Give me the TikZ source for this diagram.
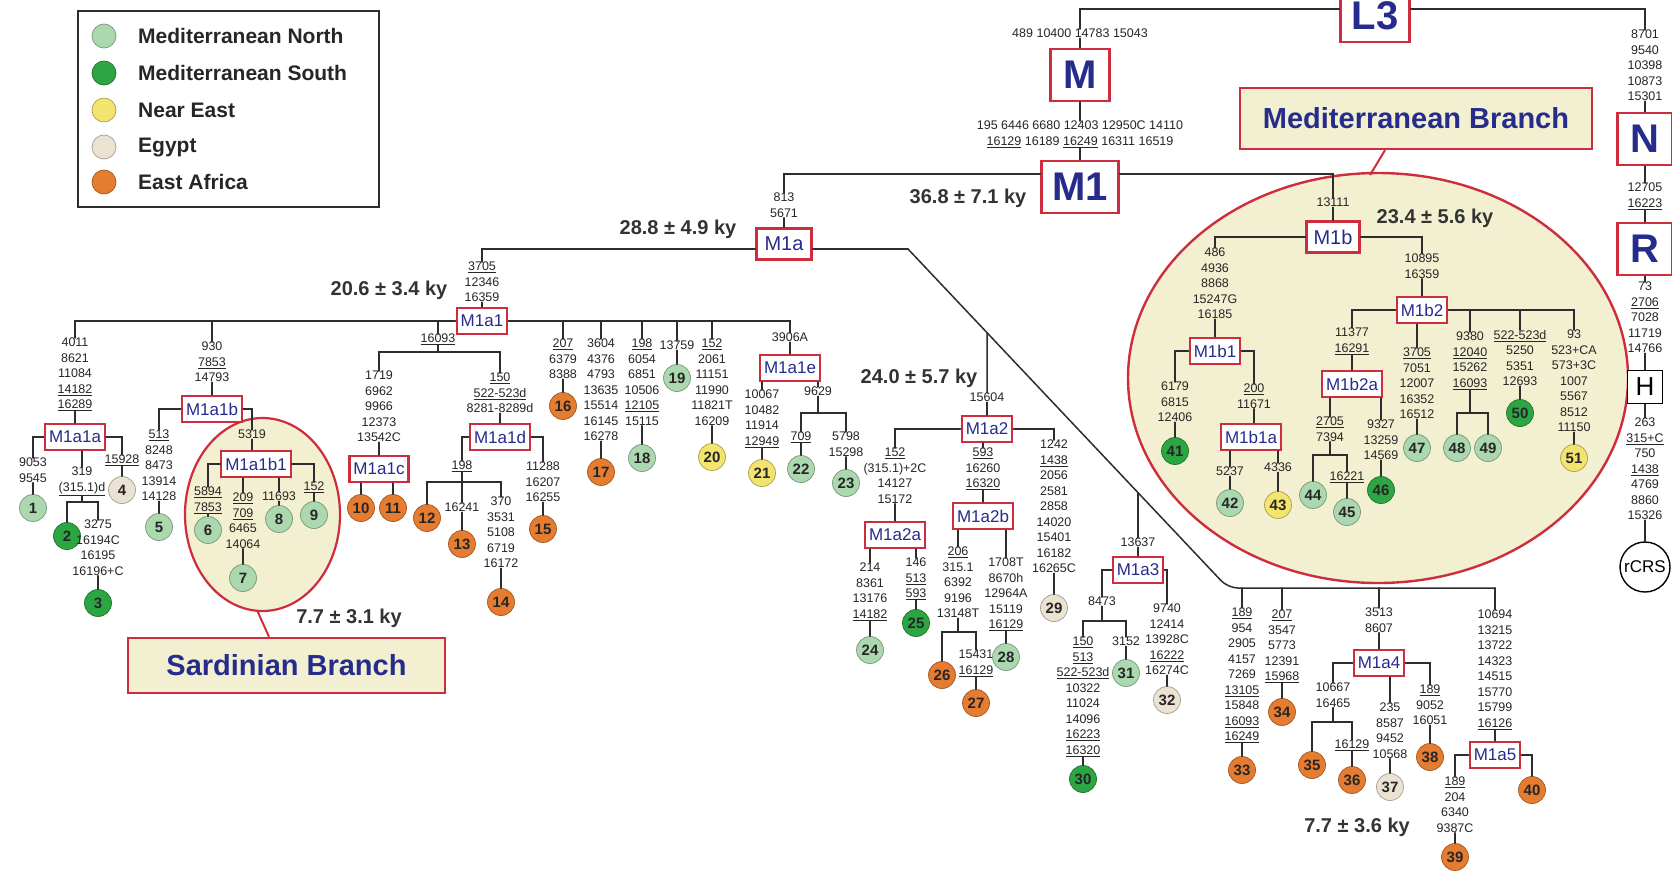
\documentclass[tikz,border=0pt]{standalone}
\usepackage{fontspec}
\setmainfont{Liberation Sans}
\usetikzlibrary{calc}
\definecolor{hred}{RGB}{205,45,60}
\definecolor{hblue}{RGB}{38,44,140}
\definecolor{cream}{RGB}{242,240,208}
\definecolor{mn}{RGB}{172,216,176}
\definecolor{ms}{RGB}{44,166,66}
\definecolor{ne}{RGB}{242,228,110}
\definecolor{eg}{RGB}{236,226,210}
\definecolor{ea}{RGB}{230,124,48}
\definecolor{ln}{RGB}{45,45,45}
\newcommand{\un}[1]{\underline{#1}}
\begin{document}
\begin{tikzpicture}[x=1pt,y=-1pt,
  br/.style={draw=ln, line width=1.5pt, line cap=round},
  mut/.style={font=\fontsize{12.5}{15.5}\selectfont, align=center, inner sep=0pt, anchor=north, text=black!85},
  hg/.style={draw=hred, line width=2.4pt, fill=white, text=hblue, font=\fontsize{17}{17}\selectfont, inner xsep=4pt, inner ysep=0pt, minimum height=26pt},
  hgm/.style={hg, font=\fontsize{20}{20}\selectfont, minimum height=31pt},
  big/.style={hg, font=\bfseries\fontsize{40}{40}\selectfont, minimum height=52pt, inner xsep=10pt},
  leaf/.style={circle, minimum size=27pt, inner sep=0pt, font=\bfseries\fontsize{15}{15}\selectfont, fill=#1, draw=#1!70!black, line width=0.7pt, text=black!85},
  ky/.style={font=\bfseries\fontsize{20}{20}\selectfont, text=black!80, inner sep=0pt},
  co/.style={draw=hred, line width=2pt},
  callout/.style={draw=hred, line width=2.4pt, fill=cream, text=hblue, font=\bfseries\fontsize{29}{29}\selectfont, inner sep=0pt},
  leg/.style={font=\bfseries\fontsize{21}{21}\selectfont, text=black!85, anchor=west, inner sep=0pt}
]
\useasboundingbox (0,0) rectangle (1672,871);
\fill[white] (0,0) rectangle (1672,871);

% background ellipses
\draw[draw=hred, line width=2.4pt, fill=cream] (1378,378) ellipse [x radius=250pt, y radius=205pt];
\draw[draw=hred, line width=2.2pt, fill=cream] (262.5,514.5) ellipse [x radius=77.5pt, y radius=96.5pt];

% legend
\node[draw=ln, line width=2pt, anchor=north west, minimum width=301pt, minimum height=196pt, inner sep=0pt] (legbox) at (77,10) {};
\node[leaf=mn, minimum size=24pt] (lg1) at (104,36) {};
\node[leaf=ms, minimum size=24pt] (lg2) at (104,73) {};
\node[leaf=ne, minimum size=24pt] (lg3) at (104,110) {};
\node[leaf=eg, minimum size=24pt] (lg4) at (104,147) {};
\node[leaf=ea, minimum size=24pt] (lg5) at (104,182) {};
\node[leg] (lt1) at (138,36) {Mediterranean North};
\node[leg] (lt2) at (138,73) {Mediterranean South};
\node[leg] (lt3) at (138,110) {Near East};
\node[leg] (lt4) at (138,147) {Egypt};
\node[leg] (lt5) at (138,182) {East Africa};

% top
\node[big, minimum width=69pt] (L3) at (1375,16) {L3};
\node[mut] (tM) at (1080,29) {489 10400 14783 15043};
\node[big, minimum width=59pt] (M) at (1080,75) {M};
\node[mut] (tM1) at (1080,121) {195 6446 6680 12403 12950C 14110\\\un{16129} 16189 \un{16249} 16311 16519};
\node[big, minimum width=77pt] (M1) at (1080,187) {M1};
\node[ky] (k368) at (968,198) {36.8 ± 7.1 ky};

\node[mut] (t813) at (784,193) {813\\5671};
\node[hgm, minimum width=55pt] (M1a) at (784,244) {M1a};
\node[ky] (k288) at (678,229) {28.8 ± 4.9 ky};
\node[mut] (t3705) at (482,262) {\un{3705}\\12346\\16359};
\node[hg] (M1a1) at (482,321) {M1a1};
\node[ky] (k206) at (389,290) {20.6 ± 3.4 ky};

% M1a1a
\node[mut] (t4011) at (75,338) {4011\\8621\\11084\\\un{14182}\\\un{16289}};
\node[hg] (M1a1a) at (75,437) {M1a1a};
\node[mut] (t9053) at (33,458) {9053\\9545};
\node[leaf=mn] (c1) at (33,508) {1};
\node[mut] (t319) at (82,467) {319\\\un{(315.1)d}};
\coordinate (b3) at (82,502);
\node[leaf=ms] (c2) at (67,536) {2};
\node[mut] (t3275) at (98,520) {3275\\16194C\\16195\\16196+C};
\node[leaf=ms] (c3) at (98,603) {3};
\node[mut] (t15928) at (122,455) {\un{15928}};
\node[leaf=eg] (c4) at (122,490) {4};

% M1a1b
\node[mut] (t930) at (212,342) {930\\\un{7853}\\14793};
\node[hg] (M1a1b) at (212,409) {M1a1b};
\node[mut] (t513) at (159,430) {\un{513}\\8248\\8473\\13914\\14128};
\node[leaf=mn] (c5) at (159,527) {5};
\node[mut] (t5319) at (252,430) {5319};
\node[hg] (M1a1b1) at (256,464) {M1a1b1};
\node[mut] (t5894) at (208,487) {\un{5894}\\\un{7853}};
\node[leaf=mn] (c6) at (208,530) {6};
\node[mut] (t209) at (243,493) {\un{209}\\\un{709}\\6465\\14064};
\node[leaf=mn] (c7) at (243,578) {7};
\node[mut] (t11693) at (279,492) {11693};
\node[leaf=mn] (c8) at (279,519) {8};
\node[mut] (t152s) at (314,482) {\un{152}};
\node[leaf=mn] (c9) at (314,515) {9};
\node[callout, minimum width=317pt, minimum height=55pt] (sard) at (286.5,665.5) {Sardinian Branch};
\coordinate (sardtip) at (257,610);
\node[ky] (k77a) at (349,618) {7.7 ± 3.1 ky};

% M1a1c / M1a1d
\node[mut] (t16093) at (438,334) {\un{16093}};
\coordinate (b1) at (438,352);
\node[mut] (t1719) at (379,371) {1719\\6962\\9966\\12373\\13542C};
\node[hg] (M1a1c) at (379,469) {M1a1c};
\node[leaf=ea] (c10) at (361,508) {10};
\node[leaf=ea] (c11) at (393,508) {11};
\node[mut] (t150) at (500,373) {\un{150}\\\un{522-523d}\\8281-8289d};
\node[hg] (M1a1d) at (500,437) {M1a1d};
\node[mut] (t198) at (462,461) {\un{198}};
\coordinate (b2) at (462,482);
\node[leaf=ea] (c12) at (427,518) {12};
\node[mut] (t16241) at (462,503) {16241};
\node[leaf=ea] (c13) at (462,544) {13};
\node[mut] (t370) at (501,497) {370\\3531\\5108\\6719\\16172};
\node[leaf=ea] (c14) at (501,602) {14};
\node[mut] (t11288) at (543,462) {11288\\16207\\16255};
\node[leaf=ea] (c15) at (543,529) {15};

% other M1a1 branches
\node[mut] (t207) at (563,339) {\un{207}\\6379\\8388};
\node[leaf=ea] (c16) at (563,406) {16};
\node[mut] (t3604) at (601,339) {3604\\4376\\4793\\13635\\15514\\16145\\16278};
\node[leaf=ea] (c17) at (601,472) {17};
\node[mut] (t198b) at (642,339) {\un{198}\\6054\\6851\\10506\\\un{12105}\\15115};
\node[leaf=mn] (c18) at (642,458) {18};
\node[mut] (t13759) at (677,341) {13759};
\node[leaf=mn] (c19) at (677,378) {19};
\node[mut] (t152a) at (712,339) {\un{152}\\2061\\11151\\11990\\11821T\\16209};
\node[leaf=ne] (c20) at (712,457) {20};
\node[mut] (t3906) at (790,333) {3906A};
\node[hg] (M1a1e) at (790,368) {M1a1e};
\node[mut] (t10067) at (762,390) {10067\\10482\\11914\\\un{12949}};
\node[leaf=ne] (c21) at (762,473) {21};
\node[mut] (t9629) at (818,387) {9629};
\coordinate (b9) at (818,413);
\node[mut] (t709) at (801,432) {\un{709}};
\node[leaf=mn] (c22) at (801,469) {22};
\node[mut] (t5798) at (846,432) {5798\\15298};
\node[leaf=mn] (c23) at (846,483) {23};

% diagonal
\coordinate (dA) at (908,249);
\coordinate (dB) at (1228,588);
\coordinate (bE) at (1495,588);
\coordinate (j2) at ($(dA)!0.2469!(dB)$);
\coordinate (j3) at ($(dA)!0.71875!(dB)$);

% M1a2
\node[mut] (t15604) at (987,393) {15604};
\node[ky] (k240) at (919,378) {24.0 ± 5.7 ky};
\node[hg] (M1a2) at (987,429) {M1a2};
\node[mut] (t152b) at (895,448) {\un{152}\\(315.1)+2C\\14127\\15172};
\node[hg] (M1a2a) at (895,535) {M1a2a};
\node[mut] (t214) at (870,563) {214\\8361\\13176\\\un{14182}};
\node[leaf=mn] (c24) at (870,650) {24};
\node[mut] (t146) at (916,558) {146\\\un{513}\\\un{593}};
\node[leaf=ms] (c25) at (916,623) {25};
\node[mut] (t593) at (983,448) {\un{593}\\16260\\\un{16320}};
\node[hg] (M1a2b) at (983,516) {M1a2b};
\node[mut] (t206) at (958,547) {\un{206}\\315.1\\6392\\9196\\13148T};
\coordinate (b4) at (958,632);
\node[leaf=ea] (c26) at (942,675) {26};
\node[mut] (t15431) at (976,650) {15431\\\un{16129}};
\node[leaf=ea] (c27) at (976,703) {27};
\node[mut] (t1708) at (1006,558) {1708T\\8670h\\12964A\\15119\\\un{16129}};
\node[leaf=mn] (c28) at (1006,657) {28};
\node[mut] (t1242) at (1054,440) {1242\\\un{1438}\\2056\\2581\\2858\\14020\\15401\\16182\\16265C};
\node[leaf=eg] (c29) at (1054,608) {29};

% M1a3
\node[mut] (t13637) at (1138,538) {13637};
\node[hg] (M1a3) at (1138,570) {M1a3};
\node[mut] (t8473) at (1102,597) {8473};
\coordinate (b5) at (1102,621);
\node[mut] (t150b) at (1083,637) {\un{150}\\\un{513}\\\un{522-523d}\\10322\\11024\\14096\\\un{16223}\\\un{16320}};
\node[leaf=ms] (c30) at (1083,779) {30};
\node[mut] (t3152) at (1126,637) {3152};
\node[leaf=mn] (c31) at (1126,673) {31};
\node[mut] (t9740) at (1167,604) {9740\\12414\\13928C\\\un{16222}\\16274C};
\node[leaf=eg] (c32) at (1167,700) {32};

% M1a4 / M1a5
\node[mut] (t189) at (1242,608) {\un{189}\\954\\2905\\4157\\7269\\\un{13105}\\15848\\\un{16093}\\\un{16249}};
\node[leaf=ea] (c33) at (1242,770) {33};
\node[mut] (t207b) at (1282,610) {\un{207}\\3547\\5773\\12391\\\un{15968}};
\node[leaf=ea] (c34) at (1282,712) {34};
\node[mut] (t3513) at (1379,608) {3513\\8607};
\node[hg] (M1a4) at (1379,663) {M1a4};
\node[mut] (t10667) at (1333,683) {10667\\16465};
\coordinate (b6) at (1333,722);
\node[leaf=ea] (c35) at (1312,765) {35};
\node[mut] (t16129c) at (1352,740) {\un{16129}};
\node[leaf=ea] (c36) at (1352,780) {36};
\node[mut] (t235) at (1390,703) {235\\8587\\9452\\10568};
\node[leaf=eg] (c37) at (1390,787) {37};
\node[mut] (t189c) at (1430,685) {\un{189}\\9052\\16051};
\node[leaf=ea] (c38) at (1430,757) {38};
\node[mut] (t10694) at (1495,610) {10694\\13215\\13722\\14323\\14515\\15770\\15799\\\un{16126}};
\node[hg] (M1a5) at (1495,755) {M1a5};
\node[mut] (t189d) at (1455,777) {\un{189}\\204\\6340\\9387C};
\node[leaf=ea] (c39) at (1455,857) {39};
\node[leaf=ea] (c40) at (1532,790) {40};
\node[ky] (k77b) at (1357,827) {7.7 ± 3.6 ky};

% M1b
\node[mut] (t13111) at (1333,198) {13111};
\node[hgm, minimum width=53pt] (M1b) at (1333,237) {M1b};
\node[ky] (k234) at (1435,218) {23.4 ± 5.6 ky};
\node[mut] (t486) at (1215,248) {486\\4936\\8868\\15247G\\16185};
\node[hg] (M1b1) at (1215,351) {M1b1};
\node[mut] (t6179) at (1175,382) {6179\\6815\\12406};
\node[leaf=ms] (c41) at (1175,451) {41};
\node[mut] (t200) at (1254,384) {\un{200}\\11671};
\node[hg] (M1b1a) at (1251,437) {M1b1a};
\node[mut] (t5237) at (1230,467) {5237};
\node[leaf=mn] (c42) at (1230,503) {42};
\node[mut] (t4336) at (1278,463) {4336};
\node[leaf=ne] (c43) at (1278,505) {43};
\node[mut] (t10895) at (1422,254) {10895\\16359};
\node[hg] (M1b2) at (1422,310) {M1b2};
\node[mut] (t11377) at (1352,328) {11377\\\un{16291}};
\node[hg] (M1b2a) at (1352,384) {M1b2a};
\node[mut] (t2705) at (1330,417) {\un{2705}\\7394};
\coordinate (b8) at (1330,455);
\node[leaf=mn] (c44) at (1313,495) {44};
\node[mut] (t16221) at (1347,472) {\un{16221}};
\node[leaf=mn] (c45) at (1347,512) {45};
\node[mut] (t9327) at (1381,420) {9327\\13259\\14569};
\node[leaf=ms] (c46) at (1381,490) {46};
\node[mut] (t3705b) at (1417,348) {\un{3705}\\7051\\12007\\16352\\16512};
\node[leaf=mn] (c47) at (1417,448) {47};
\node[mut] (t9380) at (1470,332) {9380\\\un{12040}\\15262\\\un{16093}};
\coordinate (b7) at (1470,413);
\node[leaf=mn] (c48) at (1457,448) {48};
\node[leaf=mn] (c49) at (1488,448) {49};
\node[mut] (t522) at (1520,330) {\un{522-523d}\\5250\\5351\\12693};
\node[leaf=ms] (c50) at (1520,413) {50};
\node[mut] (t93) at (1574,330) {93\\523+CA\\573+3C\\1007\\5567\\8512\\11150};
\node[leaf=ne] (c51) at (1574,458) {51};

\node[callout, minimum width=352pt, minimum height=61pt] (med) at (1416,118.5) {Mediterranean Branch};
\coordinate (medtip) at (1370,175);

% right column
\node[mut] (tN) at (1645,30) {8701\\9540\\10398\\10873\\15301};
\node[big, minimum width=55pt] (N) at (1645,139) {N};
\node[mut] (tR) at (1645,183) {12705\\\un{16223}};
\node[big, minimum width=55pt] (R) at (1645,249) {R};
\node[mut] (tH) at (1645,282) {73\\\un{2706}\\7028\\11719\\14766};
\node[hg, draw=black, text=black, line width=1.6pt, font=\fontsize{26}{26}\selectfont, minimum width=35pt, minimum height=33pt, inner sep=0pt] (H) at (1645,387) {H};
\node[mut] (trc) at (1645,418) {263\\\un{315+C}\\750\\\un{1438}\\4769\\8860\\15326};
\node[circle, draw=black, line width=1.4pt, fill=white, minimum size=50pt, inner sep=0pt, font=\fontsize{17}{17}\selectfont] (rcrs) at (1645,567) {rCRS};

% ---------- connectors ----------
\draw[co] ([xshift=-31pt]med.south) -- (medtip);
\draw[co] ([xshift=-17.5pt]sard.north) -- (sardtip);

\draw[br] (L3.west |- 0,9) -| (tM.north);
\draw[br] (L3.east |- 0,9) -| (tN.north);
\draw[br] (tM.south) -- (M.north);
\draw[br] (M.south) -- (tM1.north);
\draw[br] (tM1.south) -- (M1.north);
\draw[br] (M1.west |- 0,174) -| (t813.north);
\draw[br] (t813.south) -- (M1a.north);
\draw[br] (M1.east |- 0,174) -| (t13111.north);
\draw[br] (t13111.south) -- (M1b.north);

\draw[br] (M1a.west |- 0,249) -| (t3705.north);
\draw[br] (t3705.south) -- (M1a1.north);
\draw[br] (M1a.east |- 0,249) -- (dA);
\draw[br, rounded corners=10pt] (dA) -- (dB) -- (bE);
\draw[br] (bE) -- (t10694.north);
\draw[br] (j2) -- (t15604.north);
\draw[br] (j3) -- (t13637.north);
\draw[br] (t189.north) -- (t189.north |- bE);
\draw[br] (t207b.north) -- (t207b.north |- bE);
\draw[br] (t3513.north) -- (t3513.north |- bE);

% M1a1 bar
\draw[br] (t4011.north) |- (M1a1.west);
\draw[br] (t930.north) -- (t930.north |- M1a1.west);
\draw[br] (t16093.north) -- (t16093.north |- M1a1.west);
\draw[br] (M1a1.east) -| (t3906.north);
\foreach \n in {t207,t3604,t198b,t13759,t152a} \draw[br] (\n.north) -- (\n.north |- M1a1.east);

% M1a1a
\draw[br] (t4011.south) -- (M1a1a.north);
\draw[br] (M1a1a.west) -| (t9053.north);
\draw[br] (t9053.south) -- (c1);
\draw[br] (t319.north) -- (t319.north |- M1a1a.south);
\draw[br] (t319.south) -- (b3);
\draw[br] (c2.north) |- (b3) -| (t3275.north);
\draw[br] (t3275.south) -- (c3);
\draw[br] (M1a1a.east) -| (t15928.north);
\draw[br] (t15928.south) -- (c4);

% M1a1b
\draw[br] (t930.south) -- (M1a1b.north);
\draw[br] (M1a1b.west) -| (t513.north);
\draw[br] (t513.south) -- (c5);
\draw[br] (M1a1b.east) -| (t5319.north);
\draw[br] (t5319.south) -- (t5319.south |- M1a1b1.north);
\draw[br] (t5894.north) |- (M1a1b1.west);
\draw[br] (M1a1b1.east) -| (t152s.north);
\draw[br] (t209.north) -- (t209.north |- M1a1b1.south);
\draw[br] (t11693.north) -- (t11693.north |- M1a1b1.south);
\draw[br] (t5894.south) -- (c6);
\draw[br] (t209.south) -- (c7);
\draw[br] (t11693.south) -- (c8);
\draw[br] (t152s.south) -- (c9);

% M1a1c / d
\draw[br] (t16093.south) -- (b1);
\draw[br] (t1719.north) |- (b1) -| (t150.north);
\draw[br] (t1719.south) -- (M1a1c.north);
\draw[br] (c10.north |- M1a1c.south) -- (c10.north);
\draw[br] (c11.north |- M1a1c.south) -- (c11.north);
\draw[br] (t150.south) -- (M1a1d.north);
\draw[br] (M1a1d.west) -| (t198.north);
\draw[br] (t198.south) -- (b2);
\draw[br] (c12.north) |- (b2) -| (t370.north);
\draw[br] (b2) -- (t16241.north);
\draw[br] (t16241.south) -- (c13);
\draw[br] (t370.south) -- (c14);
\draw[br] (M1a1d.east) -| (t11288.north);
\draw[br] (t11288.south) -- (c15);

% other M1a1
\draw[br] (t207.south) -- (c16);
\draw[br] (t3604.south) -- (c17);
\draw[br] (t198b.south) -- (c18);
\draw[br] (t13759.south) -- (c19);
\draw[br] (t152a.south) -- (c20);
\draw[br] (t3906.south) -- (M1a1e.north);
\draw[br] (t10067.north) -- (t10067.north |- M1a1e.south);
\draw[br] (t10067.south) -- (c21);
\draw[br] (t9629.north) -- (t9629.north |- M1a1e.south);
\draw[br] (t9629.south) -- (b9);
\draw[br] (t709.north) |- (b9) -| (t5798.north);
\draw[br] (t709.south) -- (c22);
\draw[br] (t5798.south) -- (c23);

% M1a2
\draw[br] (t15604.south) -- (M1a2.north);
\draw[br] (t152b.north) |- (M1a2.west);
\draw[br] (M1a2.east) -| (t1242.north);
\draw[br] (t593.north) -- (t593.north |- M1a2.south);
\draw[br] (t152b.south) -- (M1a2a.north);
\draw[br] (t214.north) -- (t214.north |- M1a2a.south);
\draw[br] (t146.north) -- (t146.north |- M1a2a.south);
\draw[br] (t214.south) -- (c24);
\draw[br] (t146.south) -- (c25);
\draw[br] (t593.south) -- (M1a2b.north);
\draw[br] (t206.north) -- (t206.north |- M1a2b.south);
\draw[br] (t1708.north) -- (t1708.north |- M1a2b.south);
\draw[br] (t206.south) -- (b4);
\draw[br] (c26.north) |- (b4) -| (t15431.north);
\draw[br] (t15431.south) -- (c27);
\draw[br] (t1708.south) -- (c28);
\draw[br] (t1242.south) -- (c29);

% M1a3
\draw[br] (t13637.south) -- (M1a3.north);
\draw[br] (M1a3.west) -| (t8473.north);
\draw[br] (t8473.south) -- (b5);
\draw[br] (t150b.north) |- (b5) -| (t3152.north);
\draw[br] (t150b.south) -- (c30);
\draw[br] (t3152.south) -- (c31);
\draw[br] (M1a3.east) -| (t9740.north);
\draw[br] (t9740.south) -- (c32);

% M1a4 / M1a5
\draw[br] (t189.south) -- (c33);
\draw[br] (t207b.south) -- (c34);
\draw[br] (t3513.south) -- (M1a4.north);
\draw[br] (M1a4.west) -| (t10667.north);
\draw[br] (t10667.south) -- (b6);
\draw[br] (c35.north) |- (b6) -| (t16129c.north);
\draw[br] (t16129c.south) -- (c36);
\draw[br] (t235.north) -- (t235.north |- M1a4.south);
\draw[br] (t235.south) -- (c37);
\draw[br] (M1a4.east) -| (t189c.north);
\draw[br] (t189c.south) -- (c38);
\draw[br] (t10694.south) -- (M1a5.north);
\draw[br] (M1a5.west) -| (t189d.north);
\draw[br] (t189d.south) -- (c39);
\draw[br] (M1a5.east) -| (c40.north);

% M1b
\draw[br] (M1b.west) -| (t486.north);
\draw[br] (t486.south) -- (M1b1.north);
\draw[br] (M1b.east) -| (t10895.north);
\draw[br] (t10895.south) -- (M1b2.north);
\draw[br] (M1b1.west) -| (t6179.north);
\draw[br] (t6179.south) -- (c41);
\draw[br] (M1b1.east) -| (t200.north);
\draw[br] (t200.south) -- (t200.south |- M1b1a.north);
\draw[br] (t5237.north) -- (t5237.north |- M1b1a.south);
\draw[br] (t5237.south) -- (c42);
\draw[br] (t4336.north) -- (t4336.north |- M1b1a.south);
\draw[br] (t4336.south) -- (c43);
\draw[br] (t11377.north) |- (M1b2.west);
\draw[br] (M1b2.east) -| (t93.north);
\draw[br] (t9380.north) -- (t9380.north |- M1b2.east);
\draw[br] (t522.north) -- (t522.north |- M1b2.east);
\draw[br] (t3705b.north) -- (t3705b.north |- M1b2.south);
\draw[br] (t3705b.south) -- (c47);
\draw[br] (t9380.south) -- (b7);
\draw[br] (c48.north) |- (b7) -| (c49.north);
\draw[br] (t522.south) -- (c50);
\draw[br] (t93.south) -- (c51);
\draw[br] (t11377.south) -- (M1b2a.north);
\draw[br] (t2705.north) -- (t2705.north |- M1b2a.south);
\draw[br] (t2705.south) -- (b8);
\draw[br] (c44.north) |- (b8) -| (t16221.north);
\draw[br] (t16221.south) -- (c45);
\draw[br] (t9327.north) -- (t9327.north |- M1b2a.south);
\draw[br] (t9327.south) -- (c46);

% right column
\draw[br] (tN.south) -- (N.north);
\draw[br] (N.south) -- (tR.north);
\draw[br] (tR.south) -- (R.north);
\draw[br] (R.south) -- (tH.north);
\draw[br] (tH.south) -- (H.north);
\draw[br] (H.south) -- (trc.north);
\draw[br] (trc.south) -- (rcrs.north);
\end{tikzpicture}
\end{document}
